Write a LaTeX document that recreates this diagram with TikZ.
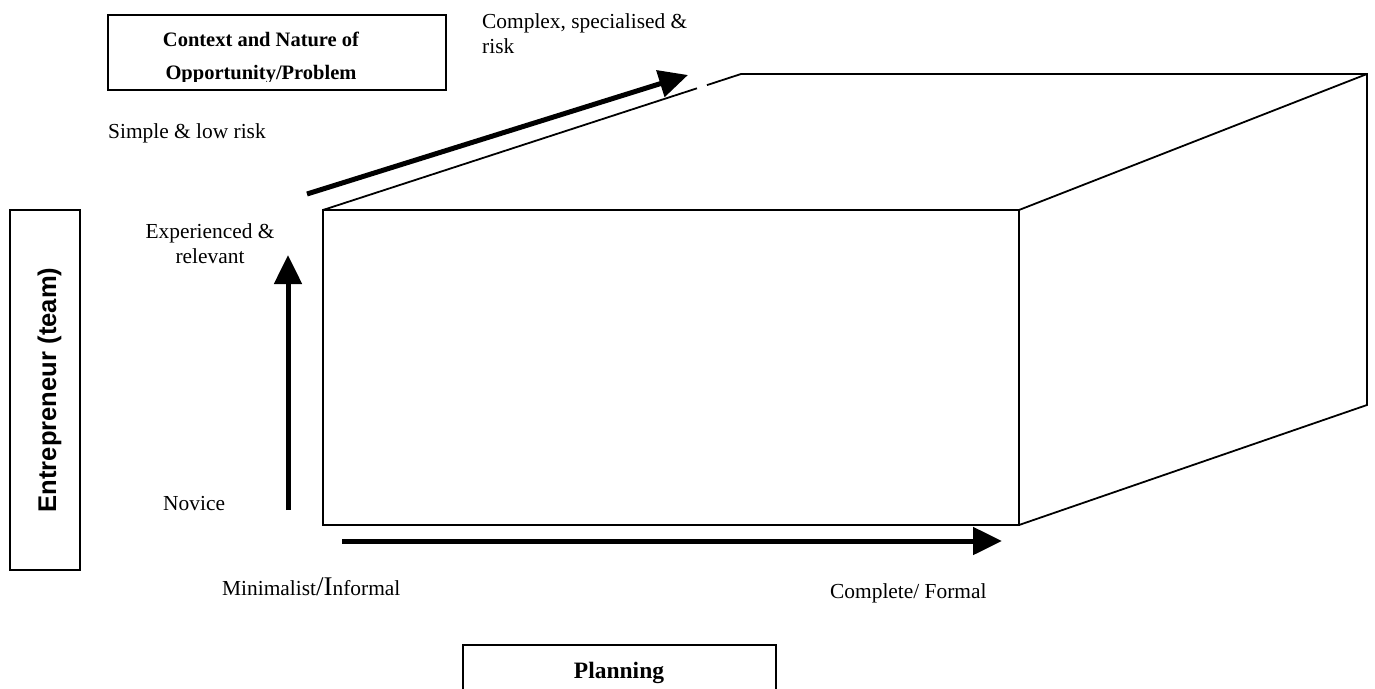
\documentclass[tikz,border=0pt]{standalone}
\usepackage{fontspec}
\setmainfont{Liberation Serif}
\newfontfamily\arialfont{Liberation Sans}
\usetikzlibrary{arrows.meta}
\begin{document}
\begin{tikzpicture}[x=1pt,y=-1pt,
  edge/.style={line width=1.8pt, line join=miter},
  framebox/.style={draw, line width=1.8pt, inner sep=0pt},
  lbl/.style={inner sep=0pt, font=\fontsize{21.4}{24.6}\selectfont},
  boldlbl/.style={inner sep=0pt, font=\bfseries\fontsize{20.5}{33}\selectfont},
  bigarrow/.style={line width=5pt, -{Triangle[length=29pt,width=27pt]}},
]
\useasboundingbox (0,0) rectangle (1375,688);
\clip (0,0) rectangle (1375,688);
\fill[white] (0,0) rectangle (1375,688);

% --- the block ---
\coordinate (fTL) at (323,210);
\coordinate (fTR) at (1019,210);
\coordinate (fBR) at (1019,525);
\coordinate (fBL) at (323,525);
\coordinate (bTL) at (741,74);
\coordinate (bTR) at (1367,74);
\coordinate (bBR) at (1367,405);
\coordinate (gapA) at (697,88.3);
\coordinate (gapB) at (707,85.1);
\draw[edge] (fTL) -- (fTR) -- (fBR) -- (fBL) -- cycle;
\draw[edge] (fTR) -- (bTR);
\draw[edge] (bTL) -- (bTR) -- (bBR) -- (fBR);
\draw[edge] (fTL) -- (gapA);
\draw[edge] (gapB) -- (bTL);

% --- axis arrows ---
\coordinate (diagS) at (307,194);
\coordinate (diagE) at (688,75);
\coordinate (vertS) at (288,510);
\coordinate (vertE) at (288,255);
\coordinate (horS) at (342,541);
\coordinate (horE) at (1002,541);
\draw[bigarrow] (diagS) -- (diagE);
\draw[bigarrow] (vertS) -- (vertE);
\draw[bigarrow] (horS) -- (horE);

% --- boxed headings ---
\node[framebox, minimum width=338pt, minimum height=75pt] (ctxbox) at (277,52.5) {};
\begin{scope}
  \clip (108,15) rectangle (446,81);
  % base anchor of a multi-line node sits on its last line
  \node[boldlbl, align=center, anchor=base] (ctx) at (261,79)
    {Context and Nature of\\Opportunity/Problem};
\end{scope}

\node[framebox, minimum width=313pt, minimum height=80pt] (planbox) at (619.5,685) {};
\node[inner sep=0pt, font=\bfseries\fontsize{23.5}{28}\selectfont, anchor=base] (plan) at (619,678) {Planning};

\node[framebox, minimum width=70pt, minimum height=360pt] (entbox) at (45,390) {};
\node[inner sep=0pt, font=\arialfont\bfseries\fontsize{25.6}{30}\selectfont, rotate=90, anchor=base] (ent) at (56,390) {Entrepreneur (team)};

% --- axis labels ---
\node[lbl, align=left, anchor=base west] (cplx) at (482,53) {Complex, specialised \&\\risk};
\node[lbl, anchor=base west] (simple) at (108,138) {Simple \& low risk};
\node[lbl, align=center, anchor=base] (exp) at (210,263) {Experienced \&\\relevant};
\node[lbl, anchor=base west] (nov) at (163,510) {Novice};
\node[lbl, anchor=base west] (mini) at (222,595) {Minimalist{\fontsize{27}{27}\selectfont/I}nformal};
\node[lbl, anchor=base west] (compl) at (830,598) {Complete/ Formal};
\end{tikzpicture}
\end{document}
